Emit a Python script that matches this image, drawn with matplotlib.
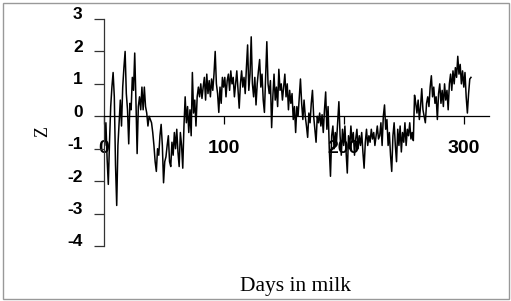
import numpy as np
import matplotlib
matplotlib.use("Agg")
import matplotlib.pyplot as plt
from matplotlib.transforms import ScaledTranslation
from matplotlib.patches import Rectangle

plt.rcParams["axes.unicode_minus"] = False

# daily Z scores in blocks of ten days
z_000 = [-0.4, -0.9, -0.2, -1.3, -2.1, -0.8, 0.3, 0.9, 1.35, 0.6]
z_010 = [-1.5, -2.75, -0.9, -0.2, 0.5, -0.3, 0.9, 1.5, 2.0, 0.7]
z_020 = [0.2, -0.85, 0.4, 0.2, 1.2, 0.8, 1.95, 0.5, -1.15, 0.3]
z_030 = [0.6, 0.2, 0.9, 0.2, 0.9, 0.3, 0.1, -0.3, 0.0, -0.1]
z_040 = [-0.2, -0.5, -0.9, -1.4, -1.7, -1.0, -1.2, -0.6, -0.25, -0.9]
z_050 = [-2.05, -1.4, -1.25, -0.9, -0.6, -1.4, -1.55, -0.8, -1.2, -0.5]
z_060 = [-1.0, -0.4, -1.1, -1.55, -0.5, -0.9, -1.6, -0.3, 0.6, -0.2]
z_070 = [0.3, -0.5, 0.2, -0.6, 1.35, 0.1, 0.5, -0.3, 0.6, 0.9]
z_080 = [0.6, 1.0, 0.55, 0.9, 1.2, 0.5, 1.3, 0.7, 1.1, 0.6]
z_090 = [1.15, 0.8, 1.3, 2.0, 1.0, 0.7, 0.12, 0.9, 0.4, 1.2]
z_100 = [0.9, 1.2, 0.6, 1.1, 1.3, 0.8, 1.4, 1.0, 1.2, 0.6]
z_110 = [1.0, 1.4, 0.8, 0.25, 1.0, 1.4, 0.9, 1.2, 0.7, 1.5]
z_120 = [2.2, 0.8, 1.3, 2.45, 1.0, 0.6, 1.2, 0.35, 1.0, 1.4]
z_130 = [1.75, 0.9, 1.3, 0.5, 0.12, 1.2, 2.3, 1.0, 0.7, 1.1]
z_140 = [-0.35, 0.6, 1.3, 0.5, 0.9, 0.3, 1.45, 0.8, 1.0, 0.5]
z_150 = [0.9, 1.3, 0.6, 1.0, 0.2, 0.8, 0.4, 0.7, -0.1, 0.3]
z_160 = [-0.5, 0.3, 0.0, 0.6, 1.15, 0.4, -0.1, 0.5, 0.0, -0.3]
z_170 = [-0.65, 0.1, -0.2, 0.4, 0.8, 0.0, -0.4, -0.8, 0.0, -0.2]
z_180 = [0.1, -0.3, 0.05, -0.5, 0.2, 0.75, -0.4, 0.3, -1.0, -1.85]
z_190 = [-0.6, -0.3, -1.0, -0.5, -0.8, -0.2, 0.45, -0.6, -1.2, -0.4]
z_200 = [-0.9, -0.3, -1.1, -1.75, -0.6, -1.0, -0.3, -0.8, -0.5, -1.2]
z_210 = [-0.7, -0.4, -1.0, -0.6, -0.9, -0.5, -1.1, -1.6, -0.8, -0.4]
z_220 = [-0.9, -0.6, -0.8, -0.4, -0.7, -0.5, -0.9, -0.6, -0.3, -0.7]
z_230 = [-0.6, -0.2, -0.9, 0.0, 0.35, -0.4, -0.1, -0.9, -0.5, -1.2]
z_240 = [-1.7, -0.6, -0.2, -0.9, -1.4, -0.4, -0.9, -0.3, -1.1, -0.5]
z_250 = [-0.8, -0.2, -0.9, -0.4, -0.6, -0.2, -0.7, -0.5, -0.75, 0.65]
z_260 = [0.4, 0.1, 0.5, -0.1, 0.3, 0.85, 0.2, 0.0, -0.2, 0.4]
z_270 = [0.6, 0.3, 0.9, 1.25, 0.6, 0.9, 0.4, 0.6, -0.1, 0.7]
z_280 = [1.0, 0.4, 0.8, 0.3, 1.0, 0.5, 0.8, 0.2, 1.0, 1.3]
z_290 = [0.8, 1.4, 1.0, 1.5, 1.2, 1.85, 1.3, 1.6, 1.0, 1.4]
z_300 = [0.9, 1.35, 0.6, 0.1, 0.7, 1.15, 1.2]

z = (z_000 + z_010 + z_020 + z_030 + z_040 + z_050 + z_060 + z_070
     + z_080 + z_090 + z_100 + z_110 + z_120 + z_130 + z_140 + z_150
     + z_160 + z_170 + z_180 + z_190 + z_200 + z_210 + z_220 + z_230
     + z_240 + z_250 + z_260 + z_270 + z_280 + z_290 + z_300)
days = np.arange(len(z))

x_ticks = [0, 100, 200, 300]
y_ticks = [-4, -3, -2, -1, 0, 1, 2, 3]

W, H = 511, 301
fig = plt.figure(figsize=(W / 100, H / 100), dpi=100)
ax = fig.add_axes([103.5 / W, 1 - 246 / H, (489 - 103.5) / W, (246 - 19) / H])

ax.plot(days, z, color="black", linewidth=1.1)
ax.set_xlim(0, 321)
ax.set_ylim(-4, 3)

for s in ("top", "right"):
    ax.spines[s].set_visible(False)
ax.spines["bottom"].set_position(("data", 0))
ax.spines["bottom"].set_linewidth(0.9)
ax.spines["left"].set_linewidth(0.9)
ax.spines["left"].set_color("#333333")

ax.set_xticks(x_ticks)
ax.set_yticks(y_ticks)
ax.tick_params(axis="x", direction="out", length=6, width=0.9, pad=11, labelsize=14)
ax.tick_params(axis="y", direction="out", length=7, width=0.9, pad=8, labelsize=12.5,
               color="#333333")
for lab in ax.get_xticklabels() + ax.get_yticklabels():
    lab.set_fontweight("bold")
    lab.set_fontfamily("Liberation Sans")
shift = ScaledTranslation(0, 4 / 72, fig.dpi_scale_trans)
for lab in ax.get_yticklabels():
    lab.set_transform(lab.get_transform() + shift)

fig.text(43 / W, 1 - 131.5 / H, "Z", rotation=90, ha="center", va="center",
         family="Liberation Serif", fontsize=13)
fig.text(296 / W, 1 - 286 / H, "Days in milk", ha="center", va="center",
         family="Liberation Serif", fontsize=15.5)

fig.patches.append(Rectangle((3 / W, 2 / H), 506 / W, 296 / H, transform=fig.transFigure,
                             fill=False, edgecolor="#999999", linewidth=1))

fig.savefig("out.png", dpi=100)
